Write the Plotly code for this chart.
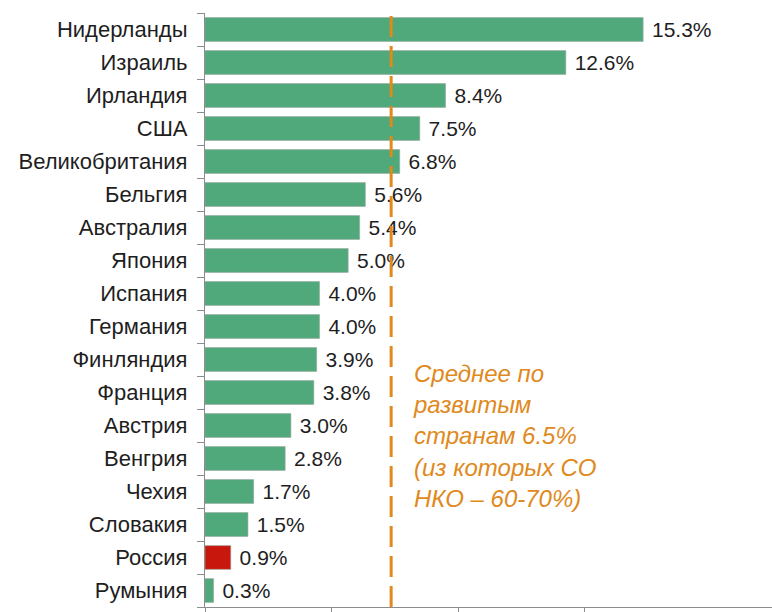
import plotly.graph_objects as go

countries = ["Нидерланды", "Израиль", "Ирландия", "США", "Великобритания", "Бельгия",
             "Австралия", "Япония", "Испания", "Германия", "Финляндия", "Франция",
             "Австрия", "Венгрия", "Чехия", "Словакия", "Россия", "Румыния"]
values = [15.3, 12.6, 8.4, 7.5, 6.8, 5.6, 5.4, 5.0, 4.0, 4.0, 3.9, 3.8, 3.0, 2.8, 1.7, 1.5, 0.9, 0.3]
labels = ["\u00a0" + f"{v:.1f}%" for v in values]
x_ticks = [0, 4.42, 8.84, 13.26]
highlight = "Россия"
average = 6.5
avg_text = "Среднее по<br>развитым<br>странам 6.5%<br>(из которых СО<br>НКО – 60-70%)"

GREEN = "#50a97b"
RED = "#c8170d"
colors = [RED if c == highlight else GREEN for c in countries]

fig = go.Figure()
fig.add_trace(go.Bar(
    y=countries, x=values, orientation="h",
    marker=dict(color=colors, line=dict(color="#9aa79f", width=0.6)),
    text=labels, textposition="outside", cliponaxis=False,
    textfont=dict(family="Liberation Sans, Arial", size=21, color="#1e1e1e"),
    width=0.72,
))

fig.add_shape(type="line", x0=average, x1=average, y0=0, y1=0.995, yref="paper", xref="x",
              line=dict(color="#e0891c", width=3, dash="21px,9px"))

fig.add_annotation(x=7.2, xref="x", y=0.42, yref="paper", xanchor="left", yanchor="top",
                   text=avg_text, showarrow=False, align="left",
                   font=dict(family="Liberation Sans, Arial", size=24, color="#e0891c", style="italic"))

fig.update_layout(
    width=772, height=612,
    margin=dict(l=205, r=0, t=13, b=2),
    plot_bgcolor="white", paper_bgcolor="white",
    showlegend=False,
    bargap=0.27,
)
fig.update_yaxes(
    categoryorder="array", categoryarray=countries[::-1],
    showline=True, linecolor="#8c8c8c", linewidth=1.2,
    ticks="outside", tickson="boundaries", ticklen=7, tickcolor="#8c8c8c",
    tickfont=dict(family="Liberation Sans, Arial", size=22, color="#1e1e1e"),
    ticklabelstandoff=12,
    showgrid=False,
)
fig.update_xaxes(
    range=[0, 19.8], showline=True, linecolor="#8c8c8c", linewidth=1.2,
    ticks="outside", ticklen=5, tickcolor="#8c8c8c",
    tickmode="array", tickvals=x_ticks, showticklabels=False, showgrid=False, zeroline=False,
)

fig.write_html("out.html", config={"displayModeBar": False},
               post_script="document.body.style.margin='0';")
